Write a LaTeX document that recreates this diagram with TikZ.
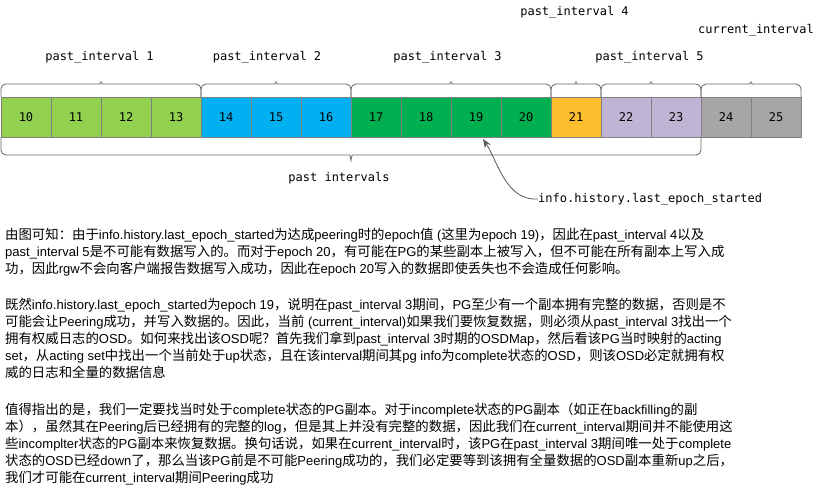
\documentclass[tikz,border=0pt]{standalone}
\usepackage{fontspec}
\setmainfont{Liberation Sans}
\newfontfamily\cjkfont{Noto Sans CJK SC}[Scale=1.03]
\newfontfamily\monofont{DejaVu Sans Mono}
\XeTeXinterchartokenstate=1
\chardef\CJKcls=7
\newcount\mycnt
\mycnt="4E00
\loop
\XeTeXcharclass\mycnt=\CJKcls
\advance\mycnt by 1
\ifnum\mycnt<"A000\relax\repeat
\XeTeXcharclass"3001=\CJKcls
\XeTeXcharclass"3002=\CJKcls
\XeTeXcharclass"FF08=\CJKcls
\XeTeXcharclass"FF09=\CJKcls
\XeTeXcharclass"FF0C=\CJKcls
\XeTeXcharclass"FF1A=\CJKcls
\XeTeXcharclass"FF1F=\CJKcls
\XeTeXinterchartoks 0 \CJKcls = {\cjkfont}
\XeTeXinterchartoks 4095 \CJKcls = {\cjkfont}
\XeTeXinterchartoks \CJKcls 0 = {\rmfamily}
\XeTeXinterchartoks \CJKcls 4095 = {\rmfamily}
\definecolor{lgreen}{RGB}{146,208,80}
\definecolor{cblue}{RGB}{0,176,240}
\definecolor{dgreen}{RGB}{0,176,80}
\definecolor{corange}{RGB}{252,190,44}
\definecolor{lav}{RGB}{191,180,212}
\definecolor{cgrey}{RGB}{166,166,166}
\definecolor{bord}{RGB}{128,128,128}
\definecolor{brc}{RGB}{102,102,102}
\definecolor{arr}{RGB}{90,90,90}
\usetikzlibrary{arrows.meta}
\newcommand{\tbrace}[4]{\draw[bracestyle] (#1,#4) -- (#1,84) -- (#2-6,84) .. controls (#2-2,84) and (#2,82) .. (#2,78) .. controls (#2,82) and (#2+2,84) .. (#2+6,84) -- (#3,84) -- (#3,#4);}
\tikzset{
  cell/.style={draw=bord, line width=0.8pt, minimum width=50pt, minimum height=40pt, inner sep=0pt, font=\monofont\fontsize{12}{14}\selectfont},
  mono/.style={inner sep=0pt, font=\monofont\fontsize{12}{14}\selectfont},
  body/.style={anchor=west, inner sep=0pt, font=\fontsize{13}{16}\selectfont},
  bracestyle/.style={draw=brc, line width=0.8pt, rounded corners=5pt},
}
\begin{document}
\begin{tikzpicture}[x=1pt,y=-1pt]
\useasboundingbox[fill=white] (0,0) rectangle (828,487);
\foreach \n/\c [count=\i from 0] in {10/lgreen,11/lgreen,12/lgreen,13/lgreen,14/cblue,15/cblue,16/cblue,17/dgreen,18/dgreen,19/dgreen,20/dgreen,21/corange,22/lav,23/lav,24/cgrey,25/cgrey}
  \node[cell, fill=\c] (c\n) at (26+50*\i,117) {\n};
% top braces
\tbrace{1}{101}{201}{97}
\tbrace{201}{276}{351}{97}
\tbrace{351}{451}{551}{97}
\tbrace{551}{576}{601}{97}
\tbrace{601}{651}{701}{97}
\tbrace{701}{751}{801}{97}
% bottom brace
\draw[bracestyle] (1,137) -- (1,155) -- (345,155) .. controls (349,155) and (351,157) .. (351,165) .. controls (351,157) and (353,155) .. (357,155) -- (701,155) -- (701,137);
% labels
\node[mono] (l1) at (99.5,57) {past\_interval 1};
\node[mono] (l2) at (267,57) {past\_interval 2};
\node[mono] (l3) at (447.5,57) {past\_interval 3};
\node[mono] (l4) at (574.5,12) {past\_interval 4};
\node[mono] (l5) at (649.5,57) {past\_interval 5};
\node[mono] (lc) at (756,30) {current\_interval};
\node[mono] (lp) at (339,178) {past intervals};
\node[mono, anchor=west] (les) at (538,199) {info.history.last\_epoch\_started};
\coordinate (tip) at (483,139);
\draw[arr, line width=0.8pt, -{Stealth[length=9pt,width=7pt]}] (les.west) .. controls (506,201) and (498,162) .. (tip);
% body text
\node[body] (p1a) at (5,235) {由图可知：由于info.history.last\_epoch\_started为达成peering时的epoch值 (这里为epoch 19)，因此在past\_interval 4以及};
\node[body] (p1b) at (5,252) {past\_interval 5是不可能有数据写入的。而对于epoch 20，有可能在PG的某些副本上被写入，但不可能在所有副本上写入成};
\node[body] (p1c) at (5,269) {功，因此rgw不会向客户端报告数据写入成功，因此在epoch 20写入的数据即使丢失也不会造成任何影响。};
\node[body] (p2a) at (5,305) {既然info.history.last\_epoch\_started为epoch 19，说明在past\_interval 3期间，PG至少有一个副本拥有完整的数据，否则是不};
\node[body] (p2b) at (5,322) {可能会让Peering成功，并写入数据的。因此，当前 (current\_interval)如果我们要恢复数据，则必须从past\_interval 3找出一个};
\node[body] (p2c) at (5,339) {拥有权威日志的OSD。如何来找出该OSD呢？首先我们拿到past\_interval 3时期的OSDMap，然后看该PG当时映射的acting};
\node[body] (p2d) at (5,356) {set，从acting set中找出一个当前处于up状态，且在该interval期间其pg info为complete状态的OSD，则该OSD必定就拥有权};
\node[body] (p2e) at (5,372) {威的日志和全量的数据信息};
\node[body] (p3a) at (5,410) {值得指出的是，我们一定要找当时处于complete状态的PG副本。对于incomplete状态的PG副本（如正在backfilling的副};
\node[body] (p3b) at (5,427) {本），虽然其在Peering后已经拥有的完整的log，但是其上并没有完整的数据，因此我们在current\_interval期间并不能使用这};
\node[body] (p3c) at (5,444) {些incomplter状态的PG副本来恢复数据。换句话说，如果在current\_interval时，该PG在past\_interval 3期间唯一处于complete};
\node[body] (p3d) at (5,461) {状态的OSD已经down了，那么当该PG前是不可能Peering成功的，我们必定要等到该拥有全量数据的OSD副本重新up之后，};
\node[body] (p3e) at (5,478) {我们才可能在current\_interval期间Peering成功};
\end{tikzpicture}
\end{document}
